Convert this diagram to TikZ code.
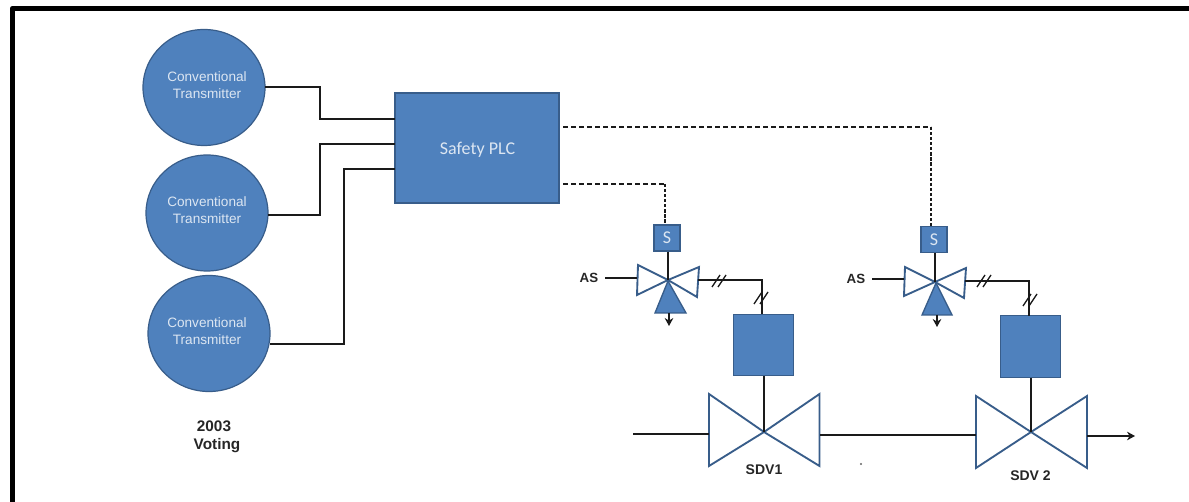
\documentclass[tikz,border=0pt]{standalone}
\usepackage{fontspec}
\setmainfont{Liberation Sans}
\newfontfamily\calfont{Carlito}
\usetikzlibrary{arrows.meta,shapes.geometric}
\definecolor{bluefill}{HTML}{4F81BD}
\definecolor{blueline}{HTML}{385D8A}
\definecolor{txtw}{HTML}{DCE6F2}
\definecolor{wire}{HTML}{1A1A1A}
\newcommand{\pxfont}[1]{\fontsize{#1}{#1}\selectfont}
\newcommand{\dblticks}[2]{%
  \draw[tickline] (#1-7,#2+6) -- (#1+1,#2-6);
  \draw[tickline] (#1-1,#2+6) -- (#1+7,#2-6);}
\tikzset{
  x=0.75pt,y=-0.75pt,
  circ/.style={ellipse,draw=blueline,fill=bluefill,line width=0.9pt,inner sep=0pt,
    minimum width=91.5pt,minimum height=87pt},
  circtext/.style={text=txtw,align=center,inner sep=0pt,font=\pxfont{10.2}},
  plcbox/.style={rectangle,draw=blueline,fill=bluefill,line width=0.9pt,inner sep=0pt},
  wireline/.style={draw=wire,line width=1.7pt,line join=miter},
  dashwire/.style={draw=wire,line width=1.8pt,dash pattern=on 3.8pt off 2.2pt},
  dotwire/.style={draw=wire,line width=2.1pt,dash pattern=on 2.4pt off 1.4pt},
  tickline/.style={draw=wire,line width=1pt},
  valveshape/.style={draw=blueline,fill=white,line width=1.4pt,line join=miter},
  drainshape/.style={draw=blueline,fill=bluefill,line width=1pt,line join=miter},
  lab/.style={text=black!85,inner sep=0pt,align=center},
  headarrow/.style={wireline,-{Stealth[length=6pt,width=6.5pt]}},
}
\begin{document}
\begin{tikzpicture}
\useasboundingbox (0,0) rectangle (1189,502);
\fill[white] (0,0) rectangle (1189,502);
% frame: top and left only
\draw[black,line width=3.9pt,line join=round] (12.5,502) -- (12.5,8.5) -- (1189,8.5);

% transmitters
\node[circ] (c1) at (204,87.5) {};
\node[circ] (c2) at (207,213) {};
\node[circ] (c3) at (209,333.5) {};
\node[circtext] (c1t) at (207,85) {Conventional\\[3pt]Transmitter};
\node[circtext] (c2t) at (207,210) {Conventional\\[3pt]Transmitter};
\node[circtext] (c3t) at (207,331) {Conventional\\[3pt]Transmitter};

% PLC
\node[plcbox,minimum width=123pt,minimum height=82.5pt] (plc) at (477,148) {};
\node[text=txtw,inner sep=0pt,font=\calfont\pxfont{13.5}] (plct) at (477.5,150) {Safety PLC};
\coordinate (p1) at (395,119);
\coordinate (p2) at (395,144);
\coordinate (p3) at (395,169);
\coordinate (c1e) at (265,87);
\coordinate (c2e) at (268,215);
\coordinate (c3e) at (270,344);
\draw[wireline] (c1e) -- (320,87) -- (320,119) -- (p1);
\draw[wireline] (c2e) -- (320,215) -- (320,144) -- (p2);
\draw[wireline] (c3e) -- (344,344) -- (344,169) -- (p3);

% solenoids
\node[plcbox,minimum width=19.5pt,minimum height=19.5pt,text=txtw,font=\calfont\pxfont{13.5}] (s1) at (667,238) {S};
\node[plcbox,minimum width=19.5pt,minimum height=19pt,text=txtw,font=\calfont\pxfont{13.5}] (s2) at (934,239.5) {S};

% control lines
\coordinate (o1) at (563,184);
\coordinate (o2) at (563,127);
\coordinate (b1) at (665,184);
\coordinate (b2) at (931,127);
\draw[dashwire] (o1) -- (b1);
\draw[dotwire] (b1) -- (s1.north -| b1);
\draw[dashwire] (o2) -- (b2);
\draw[dotwire] (b2) -- (s2.north -| b2);

% actuators
\node[plcbox,minimum width=45.5pt,minimum height=46pt] (a1) at (763.5,345) {};
\node[plcbox,minimum width=45.5pt,minimum height=46pt] (a2) at (1030.5,346.5) {};

% three-way valve 1
\coordinate (t1) at (668,280);
\coordinate (t2) at (935,282);
\draw[valveshape] (t1) -- (638,265) -- (637,295) -- cycle;
\draw[valveshape] (t1) -- (699,267) -- (697,297) -- cycle;
\draw[drainshape] (668,281) -- (686,313) -- (655,313) -- cycle;
\draw[wireline] (s1.south -| t1) -- (t1);
\coordinate (d1) at (669,326);
\draw[headarrow] (669,313) -- (d1);
% three-way valve 2
\draw[valveshape] (t2) -- (905,267) -- (904,296) -- cycle;
\draw[valveshape] (t2) -- (966,268) -- (964,298) -- cycle;
\draw[drainshape] (936,283) -- (952,315) -- (922,315) -- cycle;
\draw[wireline] (s2.south -| t2) -- (t2);
\coordinate (d2) at (937,327);
\draw[headarrow] (937,315) -- (d2);

% air supply
\node[lab,font=\pxfont{10}\bfseries] (as1) at (589,278) {AS};
\node[lab,font=\pxfont{10}\bfseries] (as2) at (856,279) {AS};
\coordinate (i1) at (637,278);
\coordinate (i2) at (904,279);
\draw[wireline] (605,278) -- (i1);
\draw[wireline] (872,279) -- (i2);

% air to actuators
\coordinate (v1o) at (698,280);
\coordinate (v2o) at (965,281);
\draw[wireline] (v1o) -- (762,280) -- (762,314);
\draw[wireline] (v2o) -- (1029,281) -- (1029,316);
\dblticks{719}{281}
\dblticks{761}{298}
\dblticks{984}{281}
\dblticks{1030}{300}

% shutdown valves
\coordinate (k1) at (764,432);
\coordinate (k2) at (1031,432);
\draw[valveshape] (k1) -- (709,394) -- (709,466) -- cycle;
\draw[valveshape] (k1) -- (819.5,394) -- (819.5,466) -- cycle;
\draw[valveshape] (k2) -- (976,396) -- (976,468) -- cycle;
\draw[valveshape] (k2) -- (1087,396) -- (1087,468) -- cycle;
\draw[wireline] (a1.south -| k1) -- (k1);
\draw[wireline] (a2.south -| k2) -- (k2);
\coordinate (in) at (633,434);
\coordinate (l1) at (709,434);
\coordinate (r1) at (820,435);
\coordinate (l2) at (976,435);
\coordinate (r2) at (1087,436);
\coordinate (out) at (1135,436);
\draw[wireline] (in) -- (l1);
\draw[wireline] (r1) -- (l2);
\draw[headarrow] (r2) -- (out);

% labels
\node[lab,font=\pxfont{10.5}\bfseries] (sdv1) at (764,470) {SDV1};
\node[lab,font=\pxfont{10.5}\bfseries] (sdv2) at (1030.5,476) {SDV 2};
\node[lab,font=\pxfont{11.5}\bfseries] (v2003) at (214,426) {2003};
\node[lab,font=\pxfont{11.5}\bfseries] (vot) at (217,446) {Voting};
\fill[black!60] (861,464) circle (0.8pt);
\end{tikzpicture}
\end{document}
